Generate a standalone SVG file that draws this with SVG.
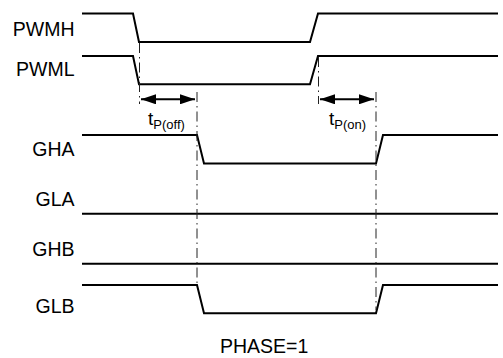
<svg xmlns="http://www.w3.org/2000/svg" width="503" height="358" viewBox="0 0 503 358">
<style>
.sig{fill:none;stroke:#000;stroke-width:2;stroke-linejoin:miter}
.lbl{font-family:"Liberation Sans",Arial,sans-serif;font-size:19.5px;fill:#000}
.t{font-family:"Liberation Sans",Arial,sans-serif;font-size:19px;fill:#000}
.sub{font-size:13px}
.dash{fill:none;stroke:#222;stroke-width:1;stroke-dasharray:10 4 1.5 4}
.arr{fill:none;stroke:#000;stroke-width:2}
</style>
<defs>
<marker id="ah" viewBox="0 0 15 10" refX="15" refY="5" markerWidth="15" markerHeight="10" markerUnits="userSpaceOnUse" orient="auto-start-reverse">
<path d="M0,0 L15,5 L0,10 Z" fill="#000"/>
</marker>
</defs>
<rect width="503" height="358" fill="#fff"/>
<g id="PWMH">
<text class="lbl" x="74.5" y="35.7" text-anchor="end">PWMH</text>
<path class="sig" d="M82,13.5 H133 L139,42 H310 L318,13.5 H498"/>
</g>
<g id="PWML">
<text class="lbl" x="74.5" y="76" text-anchor="end">PWML</text>
<path class="sig" d="M82,56 H133 L139,84.3 H310 L318,56 H498"/>
</g>
<g id="GHA">
<text class="lbl" x="74.5" y="156" text-anchor="end">GHA</text>
<path class="sig" d="M82,135 H197 L204,163.5 H376 L383,135 H498"/>
</g>
<g id="GLA">
<text class="lbl" x="74.5" y="206" text-anchor="end">GLA</text>
<path class="sig" d="M82,213.7 H498"/>
</g>
<g id="GHB">
<text class="lbl" x="74.5" y="256" text-anchor="end">GHB</text>
<path class="sig" d="M82,263.7 H498"/>
</g>
<g id="GLB">
<text class="lbl" x="74.5" y="312.7" text-anchor="end">GLB</text>
<path class="sig" d="M82,285 H197 L204,313.3 H376 L383,285 H498"/>
</g>
<g id="connectors">
<path class="dash" d="M139.5,43 V104"/>
<path class="dash" d="M197,92 V286"/>
<path class="dash" d="M318.5,57 V104"/>
<path class="dash" d="M376,92 V310"/>
<path class="arr" d="M141,99.3 H195" marker-start="url(#ah)" marker-end="url(#ah)"/>
<path class="arr" d="M320,99.3 H374" marker-start="url(#ah)" marker-end="url(#ah)"/>
</g>
<g id="tPoff">
<text class="t" x="148" y="125">t<tspan class="sub" dy="4">P(off)</tspan></text>
</g>
<g id="tPon">
<text class="t" x="329" y="125">t<tspan class="sub" dy="4">P(on)</tspan></text>
</g>
<g id="phase">
<text class="lbl" x="220" y="353.3">PHASE=1</text>
</g>
</svg>
